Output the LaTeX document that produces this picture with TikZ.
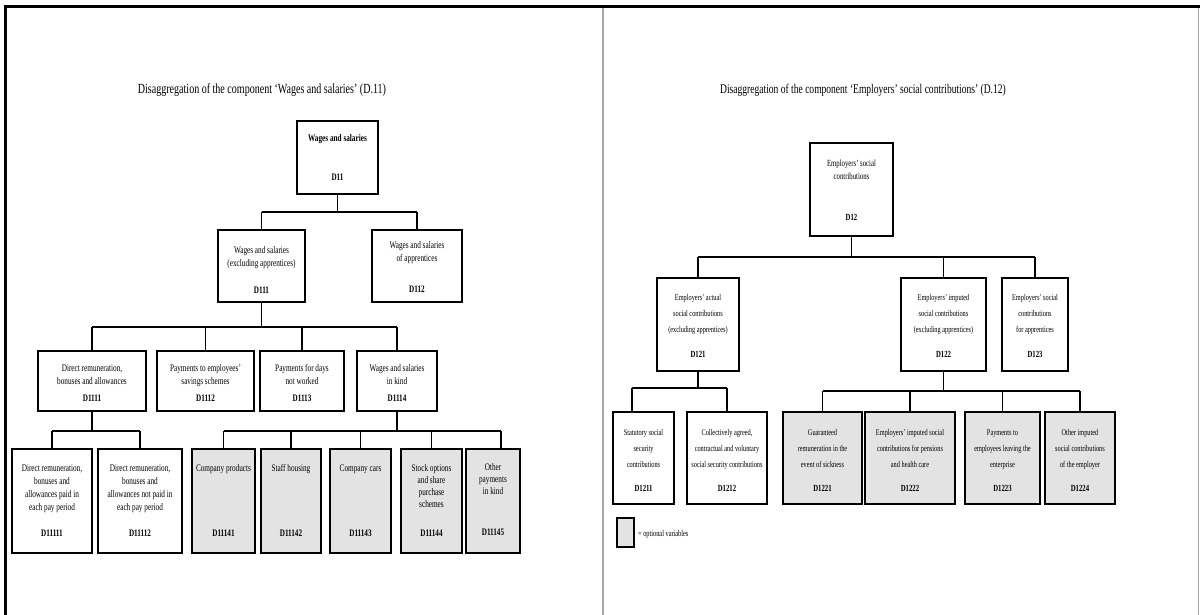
\documentclass[tikz,border=0pt]{standalone}
\usepackage{fontspec}
\setmainfont{Liberation Serif}[FakeStretch=0.72]
\usetikzlibrary{shadows,calc}
\newcommand\st{\rule{0pt}{7.2bp}}
\newcommand\mkbox[6]{%
  \pgfmathsetmacro\bw{#5-#3}\pgfmathsetmacro\bh{#6-#4}%
  \pgfmathsetmacro\bcx{(#3+#5)/2}\pgfmathsetmacro\bcy{(#4+#6)/2}%
  \node[#1, minimum width=\bw bp, minimum height=\bh bp] (#2) at (\bcx,\bcy) {};}
\tikzset{
  bx/.style={draw, line width=1.4bp, fill=white, inner sep=0pt,
    drop shadow={shadow xshift=0.9bp, shadow yshift=-1.2bp, opacity=1, fill=black}},
  opt/.style={bx, fill=gray!22},
  conn/.style={line width=1.3bp},
  tconn/.style={line width=2.6bp},
  ttl/.style={font=\fontsize{14}{16}\selectfont, inner sep=0pt, anchor=base},
  ltxt/.style={font=\fontsize{10.1}{13}\selectfont, align=center, inner sep=0pt, anchor=north},
  ltxs/.style={font=\fontsize{10.1}{12}\selectfont, align=center, inner sep=0pt, anchor=north},
  lcode/.style={font=\bfseries\fontsize{10}{11}\selectfont, inner sep=0pt, anchor=base},
  rtxt/.style={font=\fontsize{8.8}{16}\selectfont, align=center, inner sep=0pt, anchor=north},
  rcode/.style={font=\bfseries\fontsize{9.4}{10}\selectfont, inner sep=0pt, anchor=base},
}
\begin{document}
\begin{tikzpicture}[x=1bp, y=-1bp]
\useasboundingbox (0,0) rectangle (1200,615);
\fill[white] (0,0) rectangle (1200,615);
% frame
\draw[line width=3bp] (3.5,7) -- (1200,7);
\draw[line width=3bp] (5,5.5) -- (5,615);
\draw[gray!70, line width=1.5bp] (603,8) -- (603,615);
\draw[gray!70, line width=1bp] (1198.5,8) -- (1198.5,615);

% ================= LEFT PANEL =================
\node[ttl] (title1) at (262,94) {Disaggregation of the component ‘Wages and salaries’ (D.11)};

\mkbox{bx}{D11}{297}{121}{378}{194}
\mkbox{bx}{D111}{218}{230}{305}{302}
\mkbox{bx}{D112}{372}{230}{462}{302}
\mkbox{bx}{D1111}{38}{351}{146}{411}
\mkbox{bx}{D1112}{157}{351}{254}{411}
\mkbox{bx}{D1113}{260}{351}{344}{411}
\mkbox{bx}{D1114}{357}{351}{437}{411}
\mkbox{bx}{D11111}{12}{449}{92}{553}
\mkbox{bx}{D11112}{98}{449}{182}{553}
\mkbox{opt}{D11141}{192}{449}{255}{553}
\mkbox{opt}{D11142}{261}{449}{321}{553}
\mkbox{opt}{D11143}{330}{449}{391}{553}
\mkbox{opt}{D11144}{401}{449}{462}{553}
\mkbox{opt}{D11145}{466}{449}{520}{553}

\node[ltxt, font=\bfseries\fontsize{10.1}{13}\selectfont] (tD11) at (337.5,134) {\st Wages and salaries};
\node[lcode] (cD11) at (337.5,181) {D11};
\node[ltxt] (tD111) at (261.5,246) {\st Wages and salaries\\(excluding apprentices)};
\node[lcode] (cD111) at (261.5,294) {D111};
\node[ltxt] (tD112) at (417,241) {\st Wages and salaries\\of apprentices};
\node[lcode] (cD112) at (417,293) {D112};
\node[ltxt] (tD1111) at (92,364) {\st Direct remuneration,\\bonuses and allowances};
\node[lcode] (cD1111) at (92,401) {D1111};
\node[ltxt] (tD1112) at (205.5,364) {\st Payments to employees’\\savings schemes};
\node[lcode] (cD1112) at (205.5,401) {D1112};
\node[ltxt] (tD1113) at (302,364) {\st Payments for days\\not worked};
\node[lcode] (cD1113) at (302,401) {D1113};
\node[ltxt] (tD1114) at (397,364) {\st Wages and salaries\\in kind};
\node[lcode] (cD1114) at (397,401) {D1114};
\node[ltxt] (tD11111) at (52,464) {\st Direct remuneration,\\bonuses and\\allowances paid in\\each pay period};
\node[lcode] (cD11111) at (52,536) {D11111};
\node[ltxt] (tD11112) at (140,464) {\st Direct remuneration,\\bonuses and\\allowances not paid in\\each pay period};
\node[lcode] (cD11112) at (140,536) {D11112};
\node[ltxt] (tD11141) at (223.5,464) {\st Company products};
\node[lcode] (cD11141) at (223.5,536) {D11141};
\node[ltxt] (tD11142) at (291,464) {\st Staff housing};
\node[lcode] (cD11142) at (291,536) {D11142};
\node[ltxt] (tD11143) at (360.5,464) {\st Company cars};
\node[lcode] (cD11143) at (360.5,536) {D11143};
\node[ltxs] (tD11144) at (431.5,464) {\st Stock options\\and share\\purchase\\schemes};
\node[lcode] (cD11144) at (431.5,536) {D11144};
\node[ltxs] (tD11145) at (493,463) {\st Other\\payments\\in kind};
\node[lcode] (cD11145) at (493,535) {D11145};

% connectors left
\coordinate (j1) at (0,212);
\draw[conn] (D11.south) -- (D11.south |- j1);
\draw[conn] (j1 -| D111.north) -- (j1 -| D112.north);
\foreach \c in {D111,D112} \draw[conn] (j1 -| \c.north) -- (\c.north);

\coordinate (j2) at (0,327);
\draw[conn] (D111.south) -- (D111.south |- j2);
\draw[conn] (j2 -| D1111.north) -- (j2 -| D1114.north);
\foreach \c in {D1111,D1112,D1113,D1114} \draw[conn] (j2 -| \c.north) -- (\c.north);

\coordinate (j3) at (0,431);
\draw[conn] (D1111.south) -- (D1111.south |- j3);
\draw[conn] (j3 -| D11111.north) -- (j3 -| D11112.north);
\foreach \c in {D11111,D11112} \draw[conn] (j3 -| \c.north) -- (\c.north);

\draw[conn] (D1114.south) -- (D1114.south |- j3);
\coordinate (d45) at ($(D11145.north)+(8,0)$);
\draw[conn] (j3 -| D11141.north) -- (j3 -| d45);
\foreach \c in {D11141,D11142,D11143,D11144} \draw[conn] (j3 -| \c.north) -- (\c.north);
\draw[conn] (j3 -| d45) -- (d45);

% ================= RIGHT PANEL =================
\node[ttl, font=\fontsize{13.3}{16}\selectfont] (title2) at (863,94) {Disaggregation of the component ‘Employers’ social contributions’ (D.12)};

\mkbox{bx}{D12}{810}{143}{893}{236}
\mkbox{bx}{D121}{657}{278}{739}{371}
\mkbox{bx}{D122}{901}{278}{986}{371}
\mkbox{bx}{D123}{1002}{278}{1068}{371}
\mkbox{bx}{D1211}{613}{412}{674}{504}
\mkbox{bx}{D1212}{687}{412}{767}{504}
\mkbox{opt}{D1221}{783}{412}{862}{504}
\mkbox{opt}{D1222}{865}{412}{955}{504}
\mkbox{opt}{D1223}{965}{412}{1040}{504}
\mkbox{opt}{D1224}{1045}{412}{1115}{504}

\node[rtxt, font=\fontsize{9.4}{13}\selectfont] (tD12) at (851.5,159) {\st Employers’ social\\contributions};
\node[rcode] (cD12) at (851.5,221) {D12};
\node[rtxt] (tD121) at (698,293) {\st Employers’ actual\\social contributions\\(excluding apprentices)};
\node[rcode] (cD121) at (698,358) {D121};
\node[rtxt] (tD122) at (943.5,293) {\st Employers’ imputed\\social contributions\\(excluding apprentices)};
\node[rcode] (cD122) at (943.5,358) {D122};
\node[rtxt] (tD123) at (1035,293) {\st Employers’ social\\contributions\\for apprentices};
\node[rcode] (cD123) at (1035,358) {D123};
\node[rtxt] (tD1211) at (643.5,428) {\st Statutory social\\security\\contributions};
\node[rcode] (cD1211) at (643.5,491) {D1211};
\node[rtxt] (tD1212) at (727,428) {\st Collectively agreed,\\contractual and voluntary\\social security contributions};
\node[rcode] (cD1212) at (727,491) {D1212};
\node[rtxt] (tD1221) at (822.5,428) {\st Guaranteed\\remuneration in the\\event of sickness};
\node[rcode] (cD1221) at (822.5,491) {D1221};
\node[rtxt] (tD1222) at (910,428) {\st Employers’ imputed social\\contributions for pensions\\and health care};
\node[rcode] (cD1222) at (910,491) {D1222};
\node[rtxt] (tD1223) at (1002.5,428) {\st Payments to\\employees leaving the\\enterprise};
\node[rcode] (cD1223) at (1002.5,491) {D1223};
\node[rtxt] (tD1224) at (1080,428) {\st Other imputed\\social contributions\\of the employer};
\node[rcode] (cD1224) at (1080,491) {D1224};

% connectors right
\coordinate (k1) at (0,257);
\draw[conn] (D12.south) -- (D12.south |- k1);
\draw[tconn] (k1 -| D121.north) -- (k1 -| D123.north);
\foreach \c in {D121,D122,D123} \draw[conn] (k1 -| \c.north) -- (\c.north);

\coordinate (k2) at (0,388);
\coordinate (d11) at ($(D1211.north)+(-11.5,0)$);
\draw[conn] (D121.south) -- (D121.south |- k2);
\draw[tconn] (k2 -| d11) -- (k2 -| D1212.north);
\draw[conn] (k2 -| d11) -- (d11);
\draw[conn] (k2 -| D1212.north) -- (D1212.north);

\coordinate (k3) at (0,391);
\draw[conn] (D122.south) -- (D122.south |- k3);
\draw[tconn] (k3 -| D1221.north) -- (k3 -| D1224.north);
\foreach \c in {D1221,D1222,D1223,D1224} \draw[conn] (k3 -| \c.north) -- (\c.north);

% legend
\mkbox{opt}{leg}{617}{518}{634}{547}
\node[font=\fontsize{8.8}{10}\selectfont, inner sep=0pt, anchor=base west] (legt) at (638,536) {= optional variables};
\end{tikzpicture}
\end{document}
